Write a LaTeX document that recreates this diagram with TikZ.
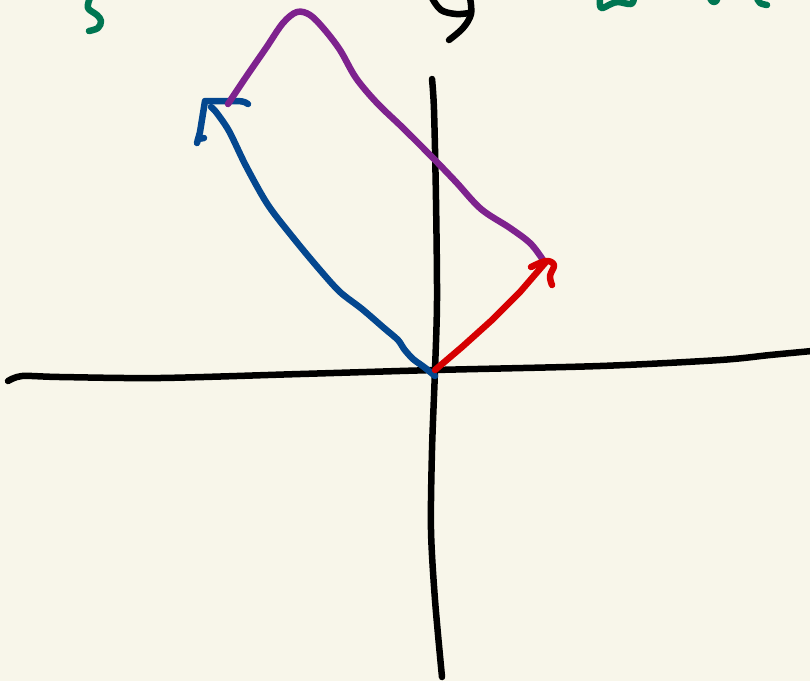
\documentclass[tikz,border=0pt]{standalone}
\definecolor{bg}{RGB}{248,246,234}
\definecolor{pen}{RGB}{0,0,0}
\definecolor{penblue}{RGB}{4,71,143}
\definecolor{penpurple}{RGB}{126,34,142}
\definecolor{penred}{RGB}{214,0,0}
\definecolor{pengreen}{RGB}{0,118,82}
\tikzset{
  ink/.style={line width=6.5pt, line cap=round, line join=round},
  axis/.style={ink, draw=pen, line width=6.5pt},
  bluepen/.style={ink, draw=penblue},
  purplepen/.style={ink, draw=penpurple},
  redpen/.style={ink, draw=penred},
  greenpen/.style={ink, draw=pengreen},
  blackpen/.style={ink, draw=pen},
}
\begin{document}
\begin{tikzpicture}[x=1pt,y=-1pt]
\fill[bg] (0,0) rectangle (810,681);
\useasboundingbox (0,0) rectangle (810,681);
\clip (0,0) rectangle (810,681);

\coordinate (O) at (435,370);
\coordinate (Rtip) at (545,263);
\coordinate (Btip) at (211,107);

% horizontal axis
\draw[axis] plot[smooth, tension=0.5] coordinates {(8,381) (22,376) (60,377) (160,378) (300,374) (435,370) (600,366) (720,360) (770,355) (812,351)};
% vertical axis
\draw[axis] plot[smooth, tension=0.5] coordinates {(432,79) (434,110) (436,200) (437,300) (435,370) (432,450) (431,530) (435,600) (442,677)};

% blue vector
\draw[bluepen] plot[smooth, tension=0.5] coordinates {(435,376) (424,367) (413,359) (404,349) (398,340) (384,328) (362,309) (340,292) (320,270) (295,240) (268,205) (246,166) (229,131) (216,112) (Btip)};
\draw[bluepen] (248,104) .. controls (244,101) and (240,101) .. (234,101) -- (205,101) -- (200,132) -- (197,143);
\draw[bluepen] (198,139) -- (204,138);

% purple curve
\draw[purplepen] plot[smooth, tension=0.55] coordinates {(228,104) (246,77) (266,48) (283,23) (297,12) (310,15) (324,29) (340,50) (356,78) (377,103) (403,128) (432,157) (456,182) (481,209) (510,228) (531,244) (Rtip)};

% red vector
\draw[redpen] (O) -- (462,347) -- (492,320) -- (520,292) -- (Rtip);
\draw[redpen] plot[smooth, tension=0.6] coordinates {(531,267) (546,261) (554,265) (550,276) (552,285)};

% black mark at top
\draw[blackpen] plot[smooth, tension=0.6] coordinates {(432,-2) (441,10) (456,14) (469,13)};
\draw[blackpen] plot[smooth, tension=0.6] coordinates {(470,-2) (471,14) (463,28) (449,40)};

% green marks
\draw[greenpen] plot[smooth, tension=0.6] coordinates {(90,-2) (88,8) (97,15) (101,21) (98,28) (89,31)};
\draw[greenpen] plot[smooth, tension=0.6] coordinates {(600,-2) (601,8) (611,4) (618,2) (631,4) (634,-2)};
\draw[greenpen] (710,-2) .. controls (712,3) and (715,3) .. (717,0);
\draw[greenpen] plot[smooth, tension=0.6] coordinates {(757,-2) (760,3) (767,5)};
\end{tikzpicture}
\end{document}
